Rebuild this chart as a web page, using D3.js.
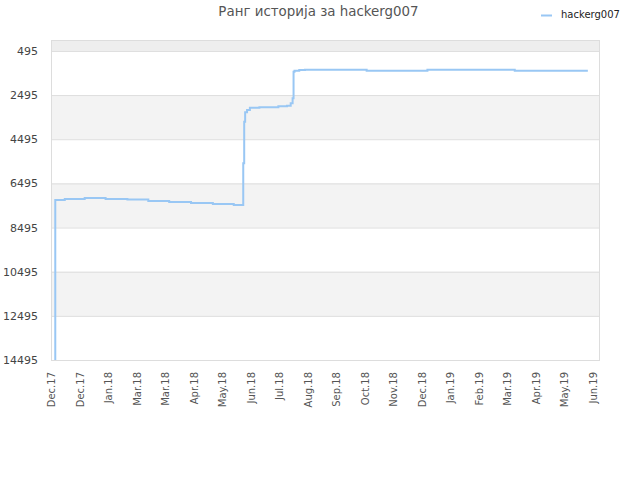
<!DOCTYPE html>
<html><head><meta charset="utf-8">
<script src="https://cdn.jsdelivr.net/npm/d3@7"></script>
<style>body{margin:0;background:#fff;font-family:"DejaVu Sans",sans-serif;}</style>
</head><body><svg id="c" width="640" height="480"></svg>
<script>
const seriesName = "hackerg007";
const dates = ["2017-12-04","2017-12-05","2017-12-15","2018-01-05","2018-01-27","2018-02-19","2018-03-13","2018-04-04","2018-04-27","2018-05-20","2018-06-11","2018-06-21","2018-06-22","2018-06-23","2018-06-25","2018-06-28","2018-07-08","2018-07-28","2018-08-06","2018-08-10","2018-08-12","2018-08-13","2018-08-14","2018-08-19","2018-08-25","2018-10-29","2019-01-01","2019-04-03","2019-06-19"];
const ranks = [14495,7247,7202,7157,7202,7230,7293,7338,7383,7428,7474,5585,3701,3275,3171,3066,3048,3003,2976,2867,2641,1436,1391,1359,1345,1391,1345,1391,1391];
const yTicks = [495,2495,4495,6495,8495,10495,12495,14495];
const xTickDates = ["2017-12-01","2017-12-31","2018-01-30","2018-03-01","2018-03-31","2018-04-30","2018-05-30","2018-06-29","2018-07-29","2018-08-28","2018-09-27","2018-10-27","2018-11-26","2018-12-26","2019-01-25","2019-02-24","2019-03-26","2019-04-25","2019-05-25","2019-06-24"];
const xTickLabels = ["Dec.17","Dec.17","Jan.18","Mar.18","Mar.18","Apr.18","May.18","Jun.18","Jul.18","Aug.18","Sep.18","Oct.18","Nov.18","Dec.18","Jan.19","Feb.19","Mar.19","Apr.19","May.19","Jun.19"];

const P = d3.utcParse("%Y-%m-%d");
const svg = d3.select("#c");
const L=51,R=600,T=40,B=360;
const x = d3.scaleUtc().domain([new Date(Date.UTC(2017,10,30,12)),new Date(Date.UTC(2019,6,1,19))]).range([L,R]);
const y = d3.scaleLinear().domain([0,14495]).range([T,B]);

// bands
const bandEdges=[0].concat(yTicks);
for(let i=0;i<bandEdges.length-1;i++){
  if(i%2===0) svg.append("rect").attr("x",L).attr("width",R-L)
    .attr("y",y(bandEdges[i])).attr("height",y(bandEdges[i+1])-y(bandEdges[i]))
    .attr("fill", i===0?"#eeeeee":"#f3f3f3");
}
// grid
svg.append("g").selectAll("line").data(yTicks).join("line")
  .attr("x1",L).attr("x2",R).attr("y1",d=>y(d)+0.5).attr("y2",d=>y(d)+0.5)
  .attr("stroke","#dddddd");
svg.append("rect").attr("x",L+0.5).attr("y",T+0.5).attr("width",R-L-1).attr("height",B-T)
  .attr("fill","none").attr("stroke","#dddddd");

// y axis labels
const ya = svg.append("g").attr("transform",`translate(${L},0)`)
  .call(d3.axisLeft(y).tickValues(yTicks).tickSize(0).tickPadding(13).tickFormat(d3.format("d")));
ya.select(".domain").remove();
ya.selectAll("text").attr("font-size",11).attr("fill","#444").attr("font-family","DejaVu Sans");

// x axis labels
const xa = svg.append("g").attr("transform",`translate(0,${B})`)
  .call(d3.axisBottom(x).tickValues(xTickDates.map(P)).tickSize(0).tickFormat((d,i)=>xTickLabels[i]));
xa.select(".domain").remove();
xa.selectAll("text").attr("font-size",10).attr("fill","#555").attr("font-family","DejaVu Sans")
  .attr("text-anchor","end").attr("transform","rotate(-90)").attr("x",-12).attr("y",0).attr("dy","0.35em");

// line
const data = dates.map((d,i)=>({d:P(d),r:ranks[i]}));
svg.append("clipPath").attr("id","cp").append("rect").attr("x",L).attr("y",T).attr("width",R-L).attr("height",B-T);
svg.append("path").datum(data).attr("clip-path","url(#cp)")
  .attr("d",d3.line().x(d=>x(d.d)).y(d=>y(d.r)).curve(d3.curveStepAfter))
  .attr("fill","none").attr("stroke","#99c7f4").attr("stroke-width",2);

// title
svg.append("text").attr("x",318.5).attr("y",16).attr("text-anchor","middle")
  .attr("font-size",13.4).attr("fill","#555").text("Ранг историја за "+seriesName);
// legend
svg.append("line").attr("x1",541).attr("x2",552).attr("y1",15.5).attr("y2",15.5).attr("stroke","#99c7f4").attr("stroke-width",2);
svg.append("text").attr("x",561).attr("y",18).attr("font-size",10).attr("fill","#222").text(seriesName);
</script></body></html>
